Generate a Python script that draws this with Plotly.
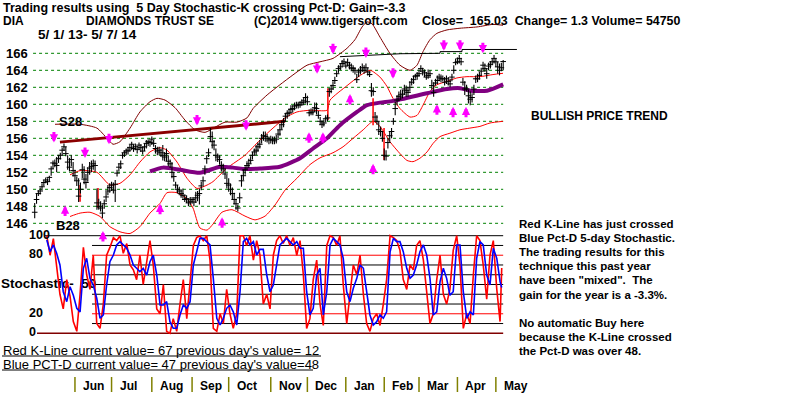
import plotly.graph_objects as go

# ---------------- data ----------------
# daily bars, 1 May 2013 .. 7 May 2014 (index = trading day)
high = [
    148.4, 149.5, 149.9, 150.2, 150.7, 151.1, 151.4, 151.3, 151.6, 152.7,
    153.4, 153.5, 153.8, 154.0, 154.3, 154.9, 155.4, 155.0, 154.0, 153.7,
    154.0, 153.2, 152.3, 151.5, 151.3, 150.8, 153.0, 152.7, 151.8, 152.6,
    153.2, 153.4, 153.5, 153.4, 150.1, 148.9, 148.6, 148.2, 148.8, 149.7,
    150.5, 150.7, 150.9, 150.8, 151.1, 152.3, 153.0, 153.4, 154.3, 154.6,
    154.8, 155.0, 155.2, 155.6, 155.3, 155.4, 155.1, 155.5, 155.3, 155.0,
    155.4, 155.8, 155.9, 155.8, 156.2, 155.8, 155.2, 155.0, 155.0, 154.8,
    155.2, 154.4, 154.8, 154.0, 153.5, 153.2, 152.0, 150.9, 150.5, 150.3,
    150.0, 150.1, 149.4, 149.3, 148.9, 149.1, 149.1, 149.0, 149.7, 149.8,
    150.1, 150.9, 151.5, 152.8, 154.0, 154.8, 157.2, 156.8, 155.8, 154.8,
    154.2, 154.0, 153.3, 153.0, 152.4, 151.7, 151.3, 150.7, 150.2, 149.6,
    148.9, 148.2, 149.6, 151.7, 152.3, 152.7, 153.3, 153.6, 153.9, 154.4,
    154.8, 155.2, 155.5, 155.8, 156.5, 156.8, 156.8, 156.5, 156.2, 156.3,
    156.2, 156.2, 156.4, 157.0, 157.6, 158.0, 158.4, 159.0, 159.3, 159.5,
    159.9, 159.9, 160.2, 160.3, 160.3, 160.4, 160.6, 160.8, 161.3, 161.0,
    159.4, 159.5, 159.5, 160.2, 160.2, 159.2, 158.5, 158.1, 158.2, 158.7,
    158.8, 161.9, 162.3, 162.7, 163.25, 164.0, 164.6, 164.8, 165.2, 165.4,
    165.0, 165.4, 165.0, 164.8, 164.6, 164.4, 163.6, 164.2, 164.5, 164.8,
    164.6, 164.8, 164.3, 163.9, 162.5, 162.0, 159.1, 158.7, 158.0, 157.4,
    156.8, 154.8, 154.6, 156.0, 156.8, 157.2, 158.4, 160.3, 161.1, 161.5,
    161.7, 161.7, 162.3, 162.2, 162.0, 162.7, 163.1, 163.4, 163.6, 163.8,
    164.1, 164.6, 164.3, 164.1, 163.8, 164.1, 164.0, 162.9, 162.6, 163.0,
    163.4, 163.6, 163.5, 163.4, 163.2, 163.4, 163.2, 163.0, 163.6, 164.6,
    165.4, 165.5, 165.8, 165.4, 163.1, 162.7, 162.3, 161.7, 161.5, 161.3,
    162.3, 163.4, 163.6, 163.8, 164.3, 165.0, 164.8, 164.2, 164.9, 165.1,
    165.4, 165.8, 165.4, 165.0, 164.8, 164.9, 165.2,
]
low = [
    146.6, 148.3, 149.2, 149.4, 149.9, 150.4, 150.7, 150.5, 150.9, 151.6,
    152.4, 152.6, 152.0, 153.1, 153.5, 154.0, 154.5, 153.9, 152.3, 152.1,
    152.7, 151.5, 151.0, 150.4, 148.5, 149.5, 151.3, 150.6, 150.1, 150.9,
    151.7, 152.0, 152.3, 152.1, 147.6, 147.6, 147.4, 146.6, 147.7, 148.5,
    149.3, 149.6, 149.8, 149.5, 148.5, 151.5, 152.1, 152.4, 153.6, 153.8,
    154.0, 154.1, 154.4, 154.6, 154.4, 154.6, 154.2, 154.6, 154.4, 154.1,
    154.5, 154.8, 155.1, 155.0, 155.2, 155.0, 154.2, 154.0, 154.0, 153.8,
    153.4, 153.3, 153.3, 152.7, 152.5, 151.3, 150.9, 150.1, 149.5, 149.3,
    149.0, 148.9, 148.5, 148.4, 148.0, 148.1, 148.3, 148.0, 148.4, 148.6,
    148.2, 149.9, 150.5, 151.7, 153.0, 153.8, 155.6, 154.8, 154.6, 153.3,
    153.2, 152.9, 152.1, 151.9, 151.2, 150.1, 149.7, 149.3, 148.8, 148.2,
    147.6, 147.4, 148.4, 150.3, 151.1, 151.7, 152.4, 152.5, 153.0, 153.5,
    154.0, 154.0, 154.4, 154.8, 155.4, 155.7, 155.6, 155.5, 155.3, 155.4,
    155.3, 155.3, 155.4, 156.0, 156.3, 157.0, 157.3, 158.0, 158.3, 158.6,
    158.9, 159.0, 159.3, 159.5, 159.5, 159.6, 159.8, 159.9, 160.1, 159.9,
    158.6, 158.7, 158.7, 159.1, 158.8, 158.3, 157.6, 157.2, 157.4, 157.9,
    158.0, 160.9, 161.3, 161.7, 162.4, 163.2, 163.7, 164.0, 164.4, 164.6,
    164.2, 164.5, 164.1, 163.9, 163.7, 163.5, 162.5, 163.2, 163.5, 163.8,
    163.6, 163.9, 163.4, 163.2, 160.9, 161.0, 158.0, 157.6, 156.4, 156.2,
    155.6, 153.4, 153.4, 154.8, 155.6, 156.0, 157.6, 158.7, 159.9, 160.4,
    160.5, 160.7, 161.1, 160.9, 160.9, 161.5, 162.2, 162.4, 163.0, 162.9,
    163.2, 163.8, 163.4, 163.2, 162.9, 163.0, 163.1, 161.7, 160.9, 162.2,
    162.4, 162.7, 162.6, 162.7, 162.2, 162.4, 162.2, 162.0, 162.7, 163.6,
    164.6, 164.7, 164.8, 164.6, 162.2, 161.1, 161.5, 160.1, 159.9, 160.2,
    161.1, 162.5, 162.6, 162.9, 163.4, 164.0, 163.8, 163.0, 164.0, 164.2,
    164.6, 164.8, 164.4, 163.6, 163.4, 163.9, 164.0,
]
close = [
    147.3, 148.8, 149.5, 149.8, 150.3, 150.8, 151.1, 150.9, 151.4, 152.4,
    153.1, 153.0, 152.8, 153.6, 154.0, 154.6, 155.0, 154.2, 153.2, 152.6,
    153.5, 152.2, 151.6, 151.0, 149.2, 150.0, 152.3, 151.2, 150.8, 152.0,
    152.5, 152.7, 153.0, 152.8, 148.4, 148.0, 147.8, 147.2, 148.3, 149.1,
    149.8, 150.2, 150.5, 149.9, 150.6, 151.9, 152.6, 153.0, 154.0, 154.3,
    154.5, 154.6, 154.9, 155.3, 154.8, 155.0, 154.7, 155.2, 154.9, 154.5,
    155.0, 155.4, 155.6, 155.5, 155.9, 155.4, 154.8, 154.5, 154.6, 154.3,
    154.0, 153.8, 154.2, 153.3, 153.0, 152.0, 151.5, 150.5, 150.0, 149.8,
    149.5, 149.3, 148.8, 148.9, 148.4, 148.6, 148.8, 148.5, 149.0, 149.3,
    149.5, 150.4, 151.0, 152.4, 153.6, 154.3, 156.2, 155.6, 155.2, 154.0,
    153.8, 153.5, 152.8, 152.4, 151.8, 150.7, 150.5, 150.0, 149.5, 148.8,
    148.3, 147.8, 149.0, 151.0, 151.6, 152.3, 152.8, 153.0, 153.4, 154.0,
    154.4, 154.6, 155.0, 155.3, 156.0, 156.3, 156.2, 156.0, 155.8, 155.9,
    155.8, 155.7, 155.9, 156.5, 157.0, 157.6, 158.0, 158.6, 158.9, 159.0,
    159.4, 159.5, 159.8, 159.9, 159.9, 160.0, 160.2, 160.4, 160.8, 160.3,
    159.0, 159.0, 159.1, 159.6, 159.5, 158.7, 158.0, 157.6, 157.8, 158.3,
    158.4, 161.5, 161.8, 162.2, 162.8, 163.6, 164.2, 164.4, 164.8, 165.0,
    164.5, 164.9, 164.6, 164.3, 164.2, 164.0, 162.9, 163.8, 164.0, 164.3,
    164.0, 164.3, 163.8, 163.5, 161.6, 161.5, 158.5, 158.0, 157.0, 156.8,
    156.0, 154.0, 153.9, 155.5, 156.3, 156.8, 158.0, 159.5, 160.5, 160.9,
    161.1, 161.2, 161.8, 161.6, 161.4, 162.0, 162.6, 162.9, 163.3, 163.4,
    163.6, 164.2, 163.9, 163.7, 163.2, 163.4, 163.6, 162.2, 161.4, 162.5,
    162.8, 163.2, 163.0, 163.0, 162.6, 163.0, 162.7, 162.4, 163.2, 164.0,
    164.9, 165.0, 165.4, 165.0, 162.6, 161.8, 161.8, 161.0, 160.6, 160.8,
    161.8, 163.0, 163.0, 163.4, 163.9, 164.6, 164.2, 163.6, 164.5, 164.7,
    165.0, 165.4, 165.0, 164.4, 164.0, 164.3, 165.03,
]
day = list(range(len(close)))

# thin maroon outer band
maroon_day = [11.1, 24.8, 34.0, 39.5, 42.8, 46.6, 52.1, 57.5, 63.0, 66.8, 71.2, 76.7, 82.1,
              87.6, 93.1, 98.5, 104.0, 110.5, 116.0, 119.3, 127.0, 134.0, 141.1, 148.8, 155.9,
              163.0, 170.7, 175.0, 178.9, 181.6, 184.4, 188.7, 194.1, 199.6, 205.1, 208.9,
              212.2, 216.0, 219.8, 225.3, 232.4, 241.7, 250.4, 255.9]
maroon_val = [157.65, 157.65, 157.2, 156.0, 155.3, 155.6, 157.2, 159.1, 160.3, 160.7, 160.5,
              159.6, 158.15, 157.0, 156.7, 157.3, 157.9, 157.9, 158.4, 159.5, 161.1, 162.3,
              163.45, 164.6, 165.0, 165.4, 166.6, 167.6, 169.1, 169.7, 169.45, 167.9, 166.0,
              164.6, 164.0, 164.6, 166.2, 167.6, 168.35, 168.75, 168.95, 169.1, 169.4, 169.3]

# red upper band
upper_day = [19.3, 24.8, 34.0, 41.1, 46.6, 52.1, 57.5, 63.0, 68.5, 72.3, 77.8, 83.2, 88.7,
             94.2, 97.4, 105.1, 114.9, 123.1, 130.2, 136.8, 143.3, 150.4, 159.7, 161.4,
             170.7, 177.9, 183.3, 188.7, 192.5, 195.8, 199.6, 205.1, 208.9, 212.2, 216.0,
             219.8, 225.3, 230.7, 236.2, 243.3, 250.4, 255.9]
upper_val = [151.7, 152.2, 152.0, 150.5, 150.7, 151.7, 153.2, 154.4, 154.9, 154.6, 153.2,
             151.3, 150.1, 150.5, 150.9, 152.5, 154.0, 155.8, 157.2, 158.4, 159.1, 159.3,
             159.3, 160.5, 162.2, 163.4, 164.0, 163.2, 162.1, 160.7, 159.5, 158.5, 158.7,
             159.9, 161.5, 162.3, 162.7, 163.1, 163.25, 163.25, 163.5, 163.65]

# red lower band
lower_day = [19.3, 24.8, 30.2, 35.7, 41.1, 46.6, 52.1, 57.5, 63.0, 68.5, 72.3, 77.8, 83.2,
             86.5, 90.3, 94.2, 97.4, 102.3, 107.8, 114.9, 120.4, 125.9, 131.3, 136.8, 143.3,
             150.4, 155.9, 163.0, 168.5, 174.0, 179.5, 184.9, 188.7, 194.1, 199.6, 203.4,
             206.7, 210.5, 214.4, 217.7, 221.5, 226.9, 232.4, 237.8, 243.3, 248.8, 255.9]
lower_val = [146.8, 147.2, 147.3, 146.8, 145.6, 145.0, 144.8, 145.6, 147.2, 148.35, 149.6,
             149.6, 148.9, 147.8, 145.45, 145.2, 145.9, 147.3, 147.6, 146.85, 146.4, 146.85,
             148.15, 149.9, 151.3, 152.9, 153.7, 154.3, 155.0, 156.0, 157.0, 158.0, 157.4,
             155.6, 154.2, 153.4, 153.25, 153.65, 154.4, 155.4, 156.2, 156.6, 157.0, 157.2,
             157.4, 157.8, 158.0]

# purple moving average
ma_day = [63.0, 70.1, 79.4, 90.3, 101.3, 108.4, 113.8, 123.1, 134.0, 145.0, 152.1, 159.7,
          166.8, 176.1, 181.6, 188.7, 195.8, 214.4, 225.3, 232.4, 237.9, 247.2, 256.0]
ma_val = [152.1, 152.55, 152.3, 151.95, 152.65, 152.55, 152.4, 152.45, 152.65, 153.65, 154.8,
          156.0, 157.55, 159.1, 159.9, 160.2, 160.4, 161.3, 161.8, 161.9, 161.6, 161.6, 162.35]

# S28 trend line (thick maroon) and resistance line (thin black)
trend_day = [13.8, 136.8]
trend_val = [155.55, 158.0]
resist_day = [166.8, 200.0, 221.5, 221.5, 233.5, 233.5, 263.5]
resist_val = [165.6, 165.95, 166.0, 166.2, 166.2, 166.45, 166.45]

# red vertical marks
rv_day = [24.8, 34.6, 160.2, 184.9, 190.9]
rv_top = [150.5, 150.15, 161.9, 160.7, 157.2]
rv_bot = [148.55, 147.8, 158.15, 157.55, 153.45]

# magenta signal arrows (centre of arrow)
sell_day = [10.5, 27.5, 40.6, 88.7, 115.5, 154.3, 163.0, 181.0, 195.8, 223.6, 232.4, 244.9]
sell_price = [156.2, 154.4, 156.0, 158.2, 157.6, 164.3, 166.6, 166.15, 163.7, 167.0, 167.0, 166.7]
buy_day = [16.6, 37.3, 68.5, 102.4, 149.9, 157.5, 172.3, 184.9, 219.8, 228.6, 235.7]
buy_price = [147.4, 144.4, 147.6, 146.0, 156.0, 156.0, 160.5, 152.3, 159.3, 159.0, 159.0]

# 5-day stochastic (K red, D blue)
stoch_day = [6.6, 8.4, 10.2, 12.0, 13.8, 15.6, 17.5, 19.3, 21.1, 23.0,
             24.8, 26.6, 28.4, 30.2, 32.0, 33.9, 35.7, 37.5, 39.3, 41.1,
             43.0, 44.8, 46.6, 48.4, 50.3, 52.1, 53.9, 55.7, 57.5, 59.3,
             61.2, 63.0, 64.8, 66.7, 68.5, 70.3, 72.1, 73.9, 75.7, 77.6,
             79.4, 81.2, 83.1, 84.9, 86.7, 88.5, 90.3, 92.1, 94.0, 95.8,
             97.6, 99.5, 101.3, 103.1, 104.9, 106.7, 108.5, 110.4, 112.2, 114.0,
             115.8, 117.6, 119.5, 121.3, 123.1, 124.9, 126.8, 128.6, 130.4, 132.2,
             134.0, 135.8, 137.7, 139.5, 141.3, 143.2, 145.0, 146.8, 148.6, 150.4,
             152.2, 154.1, 155.9, 157.7, 159.6, 161.4, 163.2, 165.0, 166.8, 168.6,
             170.5, 172.3, 174.1, 176.0, 177.8, 179.6, 181.4, 183.2, 185.0, 186.9,
             188.7, 190.5, 192.3, 194.2, 196.0, 197.8, 199.6, 201.4, 203.3, 205.1,
             206.9, 208.7, 210.5, 212.4, 214.2, 216.0, 217.8, 219.7, 221.5, 223.3,
             225.1, 226.9, 228.7, 230.6, 232.4, 234.2, 236.1, 237.9, 239.7, 241.5,
             243.3, 245.1, 247.0, 248.8, 250.6, 252.5, 254.3, 255.2]
pct_d = [95.6, 83.6, 90.5, 82, 70, 42.6, 32.4, 47.7, 39, 25.6,
         22, 66.6, 76.8, 56.3, 49.5, 35.9, 15.4, 18.8, 49.5, 73.4,
         80.2, 90.5, 93.9, 90.5, 87.1, 80.2, 70, 66.6, 63.1, 66.6,
         59.7, 73.4, 80.2, 59.7, 29, 29, 32.4, 11.9, 5.1, 5.1,
         18.8, 29, 25.6, 32.4, 70, 83.6, 97.3, 97.3, 93.9, 90.5,
         56.3, 15.4, 8.5, 15.4, 25.6, 29, 22, 8.5, 42.6, 93.9,
         97.3, 90.5, 93.9, 80.2, 86, 86, 59.7, 42.6, 49.5, 70,
         90.5, 93.9, 97.3, 93.9, 90.5, 93.9, 87.1, 87.1, 42.6, 18.8,
         25.6, 59.7, 66.6, 18.8, 42.6, 90.5, 97.3, 93.9, 90.5, 76.8,
         42.6, 32.4, 46.1, 56.3, 70, 66.6, 42.6, 18.8, 8.5, 11.9,
         18.8, 15.4, 22, 83.6, 97.3, 93.9, 93.9, 83.6, 66.6, 56.3,
         59.7, 70, 83.6, 90.5, 80.2, 56.3, 18.8, 22, 52.9, 66.6,
         56.3, 39, 42.6, 90.5, 90.5, 42.6, 15.4, 22, 18.8, 76.8,
         93.9, 90.5, 59.7, 49.5, 87.1, 76.8, 52.9, 47]
stoch_k = [100, 80, 97, 70, 40, 25, 55, 38, 12, 2,
           40, 88, 60, 45, 80, 10, 5, 30, 80, 88,
           98, 95, 100, 82, 92, 70, 65, 55, 80, 50,
           75, 95, 70, 25, 20, 50, 2, 0, 15, 2,
           30, 55, 15, 55, 90, 98, 100, 95, 100, 75,
           5, 2, 20, 10, 45, 20, 5, 20, 100, 100,
           90, 100, 75, 95, 80, 30, 40, 25, 80, 95,
           100, 92, 100, 90, 98, 80, 95, 60, 5, 15,
           55, 75, 30, 8, 90, 100, 98, 90, 100, 50,
           10, 40, 70, 60, 80, 40, 10, 2, 15, 20,
           8, 30, 55, 100, 98, 95, 85, 55, 45, 70,
           65, 90, 95, 75, 45, 10, 20, 55, 80, 40,
           30, 45, 85, 100, 70, 5, 20, 10, 60, 100,
           95, 70, 35, 80, 95, 45, 12, 67]

price_levels = [146, 148, 150, 152, 154, 156, 158, 160, 162, 164, 166]
stoch_black_levels = [90, 70, 60, 50, 40, 30, 10]
stoch_red_levels = [80, 20]
stoch_labels = ["100", "80", "20", "0"]
stoch_label_vals = [100, 80, 20, 0]

month_names = ["Jun", "Jul", "Aug", "Sep", "Oct", "Nov", "Dec", "Jan", "Feb", "Mar", "Apr", "May"]
month_start = [22, 42, 64, 86, 106, 129, 149, 170, 191, 210, 231, 252]

right_text = ["Red K-Line has just crossed", "Blue Pct-D 5-day Stochastic.",
              "The trading results for this", "technique this past year",
              'have been "mixed".  The', "gain for the year is a -3.3%.",
              "", "No automatic Buy here", "because the K-Line crossed",
              "the Pct-D was over 48."]

# ---------------- layout geometry ----------------
W, H = 800, 397
PX_PER_DAY = 1.83
X0 = 34.7                      # pixel of day 0
PX_PER_PT = 8.5                # price scale
Y166 = 53.3
PX_PER_ST = 0.976              # stochastic scale
YST0 = 333.3

XR = [-X0 / PX_PER_DAY, (W - X0) / PX_PER_DAY]
YR = [166 - (H - Y166) / PX_PER_PT, 166 + Y166 / PX_PER_PT]
Y2R = [(YST0 - H) / PX_PER_ST, YST0 / PX_PER_ST]

FONT = "Liberation Sans, Arial, sans-serif"


def px(x):
    return x / W


def py(y):
    return 1 - y / H


def label(x, y, s, size, bold=True, anchor="left", color="black"):
    return dict(x=px(x), y=py(y), xref="paper", yref="paper", text=(f"<b>{s}</b>" if bold else s),
                showarrow=False, xanchor=anchor, yanchor="middle", borderpad=0,
                font=dict(family=FONT, size=size, color=color))


fig = go.Figure()

# bands and lines
fig.add_trace(go.Scatter(x=maroon_day, y=maroon_val, mode="lines",
                         line=dict(color="#800000", width=1, shape="spline", smoothing=0.6)))
fig.add_trace(go.Scatter(x=upper_day, y=upper_val, mode="lines",
                         line=dict(color="#FF0000", width=1, shape="spline", smoothing=0.6)))
fig.add_trace(go.Scatter(x=lower_day, y=lower_val, mode="lines",
                         line=dict(color="#FF0000", width=1, shape="spline", smoothing=0.6)))
fig.add_trace(go.Scatter(x=ma_day, y=ma_val, mode="lines",
                         line=dict(color="#800080", width=4, shape="spline", smoothing=0.6)))
fig.add_trace(go.Scatter(x=trend_day, y=trend_val, mode="lines",
                         line=dict(color="#8B0000", width=3)))
fig.add_trace(go.Scatter(x=resist_day, y=resist_val, mode="lines",
                         line=dict(color="black", width=1)))

rvx, rvy = [], []
for d, t, b in zip(rv_day, rv_top, rv_bot):
    rvx += [d, d, None]
    rvy += [b, t, None]
fig.add_trace(go.Scatter(x=rvx, y=rvy, mode="lines", line=dict(color="#FF0000", width=1.5)))

# price bars
bx, by = [], []
for d, h_, l_ in zip(day, high, low):
    bx += [d, d, None]
    by += [l_, h_, None]
fig.add_trace(go.Scatter(x=bx, y=by, mode="lines", line=dict(color="black", width=1.1)))
fig.add_trace(go.Scatter(x=day, y=close, mode="markers",
                         marker=dict(symbol="line-ew", size=4, line=dict(color="black", width=1))))

# stochastic panel
fig.add_trace(go.Scatter(x=[XR[0] + 1 / PX_PER_DAY], y=[50], yaxis="y2", mode="text",
                         text=["<b>Stochastic-  50</b>"], textposition="middle right",
                         textfont=dict(family=FONT, size=13.5, color="black")))
fig.add_trace(go.Scatter(x=stoch_day, y=stoch_k, yaxis="y2", mode="lines",
                         line=dict(color="#FF0000", width=1.6)))
fig.add_trace(go.Scatter(x=stoch_day, y=pct_d, yaxis="y2", mode="lines",
                         line=dict(color="#0000FF", width=1.6)))

shapes = []
for lv in price_levels:
    shapes.append(dict(type="line", xref="x", yref="y", x0=-0.9, x1=256, y0=lv, y1=lv,
                       line=dict(color="#008000", width=1, dash="dot"), layer="below"))
stoch_start = (92 - X0) / PX_PER_DAY
for lv in stoch_black_levels:
    shapes.append(dict(type="line", xref="x", yref="y2", x0=stoch_start, x1=256, y0=lv, y1=lv,
                       line=dict(color="black", width=1), layer="below"))
for lv in stoch_red_levels:
    shapes.append(dict(type="line", xref="x", yref="y2", x0=stoch_start, x1=256, y0=lv, y1=lv,
                       line=dict(color="#FF0000", width=1), layer="below"))
shapes.append(dict(type="line", xref="x", yref="y2", x0=(45 - X0) / PX_PER_DAY, x1=256, y0=100, y1=100,
                   line=dict(color="black", width=1), layer="below"))
shapes.append(dict(type="line", xref="x", yref="y2", x0=(37 - X0) / PX_PER_DAY, x1=256, y0=0, y1=0,
                   line=dict(color="#800000", width=1.5), layer="below"))
# month ticks
for m in month_start:
    shapes.append(dict(type="line", xref="x", yref="paper", x0=m, x1=m, y0=py(392), y1=py(377),
                       line=dict(color="#808000", width=1.5)))
# underlines of the bottom value lines
shapes.append(dict(type="line", xref="paper", yref="paper", x0=px(2), x1=px(321), y0=py(356), y1=py(356),
                   line=dict(color="black", width=1)))
shapes.append(dict(type="line", xref="paper", yref="paper", x0=px(2), x1=px(313), y0=py(370), y1=py(370),
                   line=dict(color="black", width=1)))

ann = []
# arrows
HALF = 6 / PX_PER_PT
for d, p in zip(sell_day, sell_price):
    ann.append(dict(x=d, y=p - HALF, ax=d, ay=p + HALF, xref="x", yref="y", axref="x", ayref="y",
                    text="", showarrow=True, arrowhead=2, arrowsize=0.55, arrowwidth=3,
                    arrowcolor="#FF00FF"))
for d, p in zip(buy_day, buy_price):
    ann.append(dict(x=d, y=p + HALF, ax=d, ay=p - HALF, xref="x", yref="y", axref="x", ayref="y",
                    text="", showarrow=True, arrowhead=2, arrowsize=0.55, arrowwidth=3,
                    arrowcolor="#FF00FF"))

# header texts
ann.append(label(2, 8, "Trading results using  5 Day Stochastic-K crossing Pct-D: Gain=-3.3", 12.5))
ann.append(label(2, 21, "DIA", 12))
ann.append(label(85, 21, "DIAMONDS TRUST SE", 12))
ann.append(label(253, 21, "(C)2014 www.tigersoft.com", 12))
ann.append(label(421, 21, "Close=  165.03  Change= 1.3 Volume= 54750", 12.4))
ann.append(label(37, 34, "5/ 1/ 13- 5/ 7/ 14", 13.5))

# price axis labels
for lv in price_levels:
    ann.append(label(5, Y166 + (166 - lv) * PX_PER_PT, str(lv), 13))
# stochastic axis labels
for s, v in zip(stoch_labels, stoch_label_vals):
    ann.append(label(28, YST0 - v * PX_PER_ST - 1, s, 12.5))

ann.append(label(58, 121, "S28", 13))
ann.append(label(55, 226, "B28", 13))
ann.append(label(530, 116, "BULLISH PRICE TREND", 12))

for k, s in enumerate(right_text):
    if s:
        ann.append(label(518, 224 + 14.1 * k, s, 11.5))

ann.append(label(2, 350, "Red K-Line current value= 67 previous day's value= 12 ", 13, bold=False))
ann.append(label(2, 364, "Blue PCT-D current value= 47 previous day's value=48", 13, bold=False))

for m, name in zip(month_start, month_names):
    ann.append(dict(x=m, y=py(386), xref="x", yref="paper", text=f"<b>{name}</b>", showarrow=False,
                    xanchor="left", yanchor="middle", xshift=6,
                    font=dict(family=FONT, size=12, color="black")))

fig.update_layout(
    width=W, height=H, margin=dict(l=0, r=0, t=0, b=0, pad=0),
    paper_bgcolor="white", plot_bgcolor="white", showlegend=False,
    xaxis=dict(range=XR, visible=False, fixedrange=True, domain=[0, 1]),
    yaxis=dict(range=YR, visible=False, fixedrange=True, domain=[0, 1]),
    yaxis2=dict(range=Y2R, visible=False, fixedrange=True, overlaying="y"),
    shapes=shapes, annotations=ann, hovermode=False,
)

fig.write_html("out.html", config={"displayModeBar": False, "staticPlot": True},
               post_script="document.body.style.margin='0px';document.body.style.overflow='hidden';")
